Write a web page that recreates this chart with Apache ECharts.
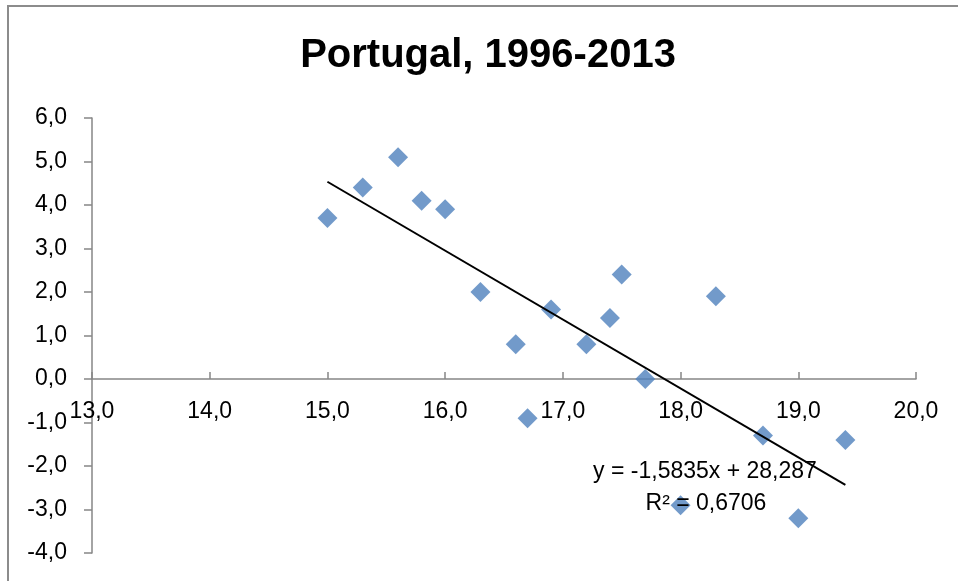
<!DOCTYPE html>
<html>
<head>
<meta charset="utf-8">
<script src="https://cdn.jsdelivr.net/npm/echarts@6/dist/echarts.min.js"></script>
<style>
html,body{margin:0;padding:0;background:#fff;}
#chart{width:958px;height:581px;}
</style>
</head>
<body>
<div id="chart"></div>
<script>
const titleText = 'Portugal, 1996-2013';
const xValues = [15.0, 15.3, 15.6, 15.8, 16.0, 16.3, 16.6, 16.7, 16.9, 17.2, 17.4, 17.5, 17.7, 18.0, 18.3, 18.7, 19.0, 19.4];
const yValues = [3.7, 4.4, 5.1, 4.1, 3.9, 2.0, 0.8, -0.9, 1.6, 0.8, 1.4, 2.4, 0.0, -2.9, 1.9, -1.3, -3.2, -1.4];
const trendSlope = -1.5835;
const trendIntercept = 28.287;
const trendR2 = 0.6706;
const xAxisRange = [13, 20];
const yAxisRange = [-4, 6];

const fmt = (v, d) => v.toFixed(d).replace('.', ',');
const points = xValues.map((x, i) => [x, yValues[i]]);
const xMin = Math.min(...xValues), xMax = Math.max(...xValues);
const trend = [[xMin, trendSlope * xMin + trendIntercept], [xMax, trendSlope * xMax + trendIntercept]];
const eqLine1 = 'y = ' + fmt(trendSlope, 4) + 'x + ' + fmt(trendIntercept, 3);
const eqLine2 = 'R² = ' + fmt(trendR2, 4);

// layout
const W = 958, H = 581;
const gLeft = 92, gRight = 42, gTop = 118, gBottom = 28;
const gHeight = H - gTop - gBottom;
const zeroY = gTop + gHeight * yAxisRange[1] / (yAxisRange[1] - yAxisRange[0]);

const FONT = "'Liberation Sans', Arial, sans-serif";
const axisColor = '#868686';
const chart = echarts.init(document.getElementById('chart'), null, {renderer: 'canvas'});
chart.setOption({
  backgroundColor: '#ffffff',
  animation: false,
  grid: [
    {left: gLeft, right: gRight, top: gTop, bottom: gBottom, containLabel: false, outerBoundsMode: 'none'},
    {left: gLeft, right: gRight, top: gTop, height: zeroY - gTop, containLabel: false, outerBoundsMode: 'none'}
  ],
  xAxis: [
    {
      gridIndex: 0, type: 'value', min: xAxisRange[0], max: xAxisRange[1], interval: 1,
      axisLine: {show: false}, axisTick: {show: false}, axisLabel: {show: false}, splitLine: {show: false}
    },
    {
      gridIndex: 1, type: 'value', position: 'bottom', min: xAxisRange[0], max: xAxisRange[1], interval: 1,
      axisLine: {show: true, onZero: false, lineStyle: {color: axisColor, width: 1.5}},
      axisTick: {show: true, inside: true, length: 7, lineStyle: {color: axisColor, width: 1.5}},
      axisLabel: {margin: 21, color: '#000', fontFamily: FONT, fontSize: 23, formatter: v => fmt(v, 1), showMinLabel: true, showMaxLabel: true, hideOverlap: false},
      splitLine: {show: false}
    }
  ],
  yAxis: [
    {
      gridIndex: 0, type: 'value', min: yAxisRange[0], max: yAxisRange[1], interval: 1,
      axisLine: {show: true, onZero: false, lineStyle: {color: axisColor, width: 1.5}},
      axisTick: {show: true, inside: false, length: 8, lineStyle: {color: axisColor, width: 1.5}},
      axisLabel: {margin: 25, color: '#000', fontFamily: FONT, fontSize: 23, formatter: v => fmt(v, 1)},
      splitLine: {show: false}
    },
    {
      gridIndex: 1, type: 'value', min: 0, max: yAxisRange[1],
      axisLine: {show: false}, axisTick: {show: false}, axisLabel: {show: false}, splitLine: {show: false}
    }
  ],
  series: [
    {
      type: 'scatter', xAxisIndex: 0, yAxisIndex: 0, data: points, symbol: 'diamond', symbolSize: 20,
      itemStyle: {color: '#4F81BD'}, z: 2
    },
    {
      type: 'line', xAxisIndex: 0, yAxisIndex: 0, data: trend, showSymbol: false, symbol: 'none',
      lineStyle: {color: '#000', width: 2}, z: 3, silent: true
    }
  ],
  graphic: [
    {type: 'rect', shape: {x: 8, y: 6, width: 1000, height: 700}, style: {fill: 'none', stroke: '#8c8c8c', lineWidth: 2}, z: 0, silent: true},
    {type: 'text', style: {x: 488, y: 56, text: titleText, textAlign: 'center', textVerticalAlign: 'middle', font: 'bold 40px ' + FONT, fill: '#000'}, z: 10},
    {type: 'text', style: {x: 705, y: 471.5, text: eqLine1, textAlign: 'center', textVerticalAlign: 'middle', font: '23px ' + FONT, fill: '#000'}, z: 10},
    {type: 'text', style: {x: 706, y: 504, text: eqLine2, textAlign: 'center', textVerticalAlign: 'middle', font: '23px ' + FONT, fill: '#000'}, z: 10}
  ]
});
</script>
</body>
</html>
